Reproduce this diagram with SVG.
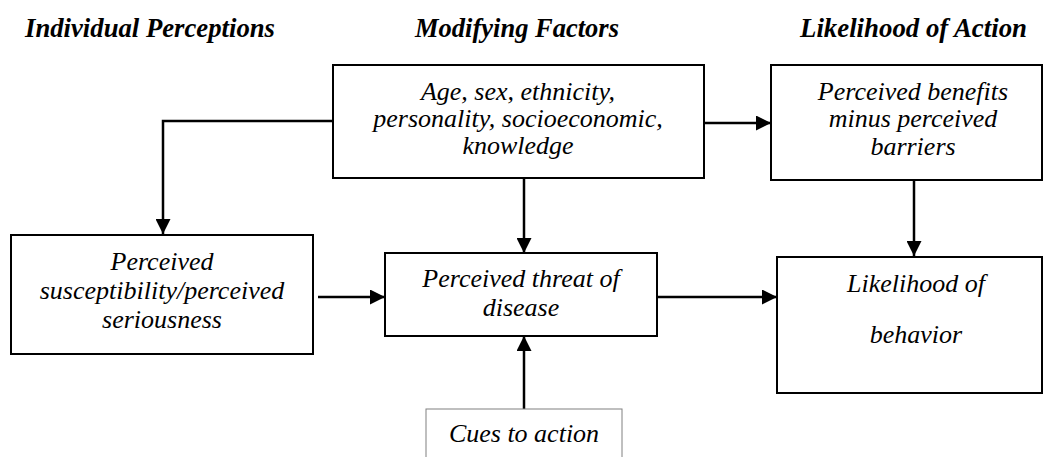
<svg xmlns="http://www.w3.org/2000/svg" width="1044" height="457" viewBox="0 0 1044 457">
<style>
.hdr{font-family:"Liberation Serif","Times New Roman",serif;font-weight:bold;font-style:italic;font-size:27px;fill:#000}
.t{font-family:"Liberation Serif","Times New Roman",serif;font-style:italic;font-size:26px;fill:#000;text-anchor:middle}
.box{fill:#fff;stroke:#000;stroke-width:2}
.thin{fill:#fff;stroke:#808080;stroke-width:1}
.c{fill:none;stroke:#000;stroke-width:2.5}
</style>
<defs>
<marker id="ah" viewBox="0 0 10 10" refX="10" refY="5" markerWidth="15" markerHeight="15" markerUnits="userSpaceOnUse" orient="auto">
<path d="M0,0 L10,5 L0,10 Z" fill="#000"/>
</marker>
</defs>
<text class="hdr" x="25" y="37" textLength="250" lengthAdjust="spacingAndGlyphs">Individual Perceptions</text>
<text class="hdr" x="415" y="37" textLength="204" lengthAdjust="spacingAndGlyphs">Modifying Factors</text>
<text class="hdr" x="800" y="37" textLength="227" lengthAdjust="spacingAndGlyphs">Likelihood of Action</text>
<g id="connectors">
<path class="c" d="M333,121 H163 V234" marker-end="url(#ah)"/>
<path class="c" d="M704,123 H771" marker-end="url(#ah)"/>
<path class="c" d="M524,178 V253" marker-end="url(#ah)"/>
<path class="c" d="M914,180 V256" marker-end="url(#ah)"/>
<path class="c" d="M318,297 H385" marker-end="url(#ah)"/>
<path class="c" d="M657,297 H777" marker-end="url(#ah)"/>
<path class="c" d="M524,409 V336" marker-end="url(#ah)"/>
</g>
<g id="modifying">
<rect class="box" x="333" y="65" width="371" height="113"/>
<text class="t" x="518" y="100">Age, sex, ethnicity,</text>
<text class="t" x="518" y="127">personality, socioeconomic,</text>
<text class="t" x="518" y="154">knowledge</text>
</g>
<g id="benefits">
<rect class="box" x="771" y="65" width="271" height="115"/>
<text class="t" x="913" y="100">Perceived benefits</text>
<text class="t" x="913" y="127">minus perceived</text>
<text class="t" x="913" y="155">barriers</text>
</g>
<g id="susceptibility">
<rect class="box" x="11" y="235" width="302" height="119"/>
<text class="t" x="162" y="270">Perceived</text>
<text class="t" x="162" y="299">susceptibility/perceived</text>
<text class="t" x="162" y="328">seriousness</text>
</g>
<g id="threat">
<rect class="box" x="385" y="253" width="272" height="83"/>
<text class="t" x="521" y="287">Perceived threat of</text>
<text class="t" x="521" y="316">disease</text>
</g>
<g id="likelihood">
<rect class="box" x="777" y="257" width="265" height="136"/>
<text class="t" x="916" y="292">Likelihood of</text>
<text class="t" x="916" y="343">behavior</text>
</g>
<g id="cues">
<rect class="thin" x="426" y="409" width="196" height="60"/>
<text class="t" x="524" y="442">Cues to action</text>
</g>
</svg>
